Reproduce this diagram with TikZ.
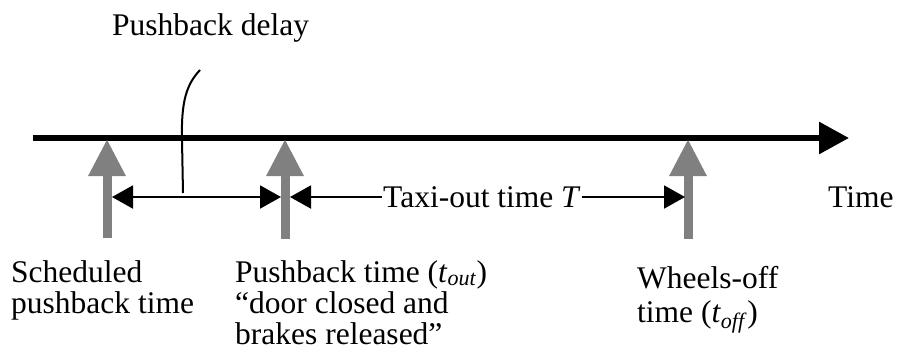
\documentclass[tikz,border=0pt]{standalone}
\usepackage{fontspec}
\setmainfont{Liberation Serif}
\usetikzlibrary{arrows.meta}
\begin{document}
\begin{tikzpicture}[x=1pt,y=-1pt,
  lbl/.style={anchor=base west,inner sep=0pt,align=left,font=\fontsize{31.5}{31}\selectfont},
  axisline/.style={line width=6pt,-{Triangle[length=30pt,width=31pt]}},
  event/.style={line width=9pt,draw=black!50,-{Triangle[length=37pt,width=35pt]}},
  span/.style={line width=2pt,{Triangle[length=21pt,width=23pt]}-{Triangle[length=21pt,width=23pt]}},
  span1/.style={line width=2pt,-{Triangle[length=21pt,width=23pt]}}]
\useasboundingbox (0,0) rectangle (897,360);
% axis
\coordinate (a0) at (33,138);
\coordinate (a1) at (849,138);
\draw[axisline] (a0) -- (a1);
% event arrows
\coordinate (e1b) at (107,238); \coordinate (e1t) at (107,139);
\coordinate (e2b) at (285,239); \coordinate (e2t) at (285,139);
\coordinate (e3b) at (688,239); \coordinate (e3t) at (688,139);
\draw[event] (e1b) -- (e1t);
\draw[event] (e2b) -- (e2t);
\draw[event] (e3b) -- (e3t);
% pushback delay span
\coordinate (d0) at (112,197);
\coordinate (d1) at (281,197);
\draw[span] (d0) -- (d1);
% taxi-out span
\coordinate (t0) at (290,197);
\coordinate (t1) at (685,197);
\node[lbl,fill=white,inner xsep=1pt] (taxi) at (382,207) {Taxi-out time \textit{T}};
\draw[line width=2pt,{Triangle[length=21pt,width=23pt]}-] (t0) -- (taxi.west |- t0);
\draw[span1] (taxi.east |- t1) -- (t1);
% pushback delay label and leader
\node[lbl] (delay) at (112,35) {Pushback delay};
\coordinate (c0) at (183,193);
\coordinate (c1) at (200,70);
\draw[line width=2pt] (c0) -- (182,140) .. controls (181,100) and (187,84) .. (c1);
% labels
\node[lbl] (time) at (828,207) {Time};
\node[lbl] (sched) at (11,313) {Scheduled\\pushback time};
\node[lbl] (push) at (235,344) {Pushback time (\textit{t}\textsubscript{\textit{out}})\\\textquotedblleft door closed and\\brakes released\textquotedblright};
\node[lbl] (wheels) at (637,322) {Wheels-off\\[3pt]time (\textit{t}\textsubscript{\textit{off}})};
\end{tikzpicture}
\end{document}
